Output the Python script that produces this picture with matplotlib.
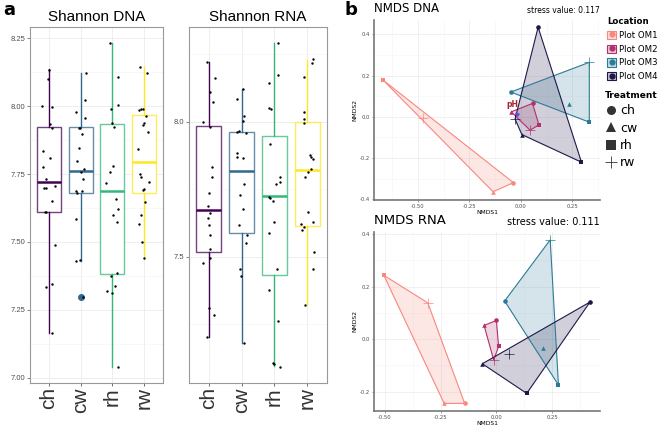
import numpy as np
import matplotlib
matplotlib.use('Agg')
import matplotlib.pyplot as plt
from matplotlib.patches import Patch, Polygon
from matplotlib.lines import Line2D
from matplotlib.legend_handler import HandlerTuple
from matplotlib.ticker import MultipleLocator

# ---- data ----
treat = ['ch', 'cw', 'rh', 'rw']
box_colors = ['#440154', '#31688E', '#35B779', '#FDE725']

# Shannon DNA box stats
dna_q1 = [7.610, 7.679, 7.382, 7.681]
dna_med = [7.721, 7.762, 7.688, 7.796]
dna_q3 = [7.922, 7.922, 7.934, 7.969]
dna_lo = [7.163, 7.430, 7.040, 7.442]
dna_hi = [8.137, 8.124, 8.234, 8.146]
dna_out = [[], [7.296], [], []]

dna_pts = [
    [8.133, 8.099, 8.002, 7.996, 7.934, 7.918, 7.836, 7.808, 7.776, 7.733,
     7.697, 7.697, 7.705, 7.650, 7.610, 7.609, 7.490, 7.333, 7.345, 7.163],
    [8.124, 8.024, 7.980, 7.957, 7.921, 7.921, 7.899, 7.845, 7.799, 7.770,
     7.757, 7.732, 7.688, 7.681, 7.689, 7.583, 7.431, 7.433, 7.296],
    [8.234, 8.106, 8.004, 7.988, 7.937, 7.923, 7.717, 7.756, 7.781, 7.658,
     7.622, 7.598, 7.573, 7.384, 7.376, 7.339, 7.320, 7.310, 7.040],
    [8.146, 8.124, 7.986, 7.988, 7.990, 7.964, 7.937, 7.931, 7.906, 7.842,
     7.750, 7.738, 7.719, 7.695, 7.691, 7.646, 7.599, 7.566, 7.501, 7.442],
]
dna_jit = [
    [0, -.03, -.21, .09, .04, .11, -.2, .03, -.18, -.11,
     -.17, -.11, .2, .09, -.14, -.08, .2, -.08, .11, .11],
    [.17, .14, -.14, .14, -.06, -.02, .05, -.06, -.12, .09,
     0, .07, -.15, -.11, .05, -.14, -.16, -.01, .08],
    [-.07, .18, .19, -.05, -.01, .04, -.19, -.08, .01, .11,
     .18, .03, .14, .15, -.05, .07, -.17, -.01, .17],
    [-.13, .09, -.15, -.02, -.11, .06, -.01, -.04, .12, -.18,
     -.13, -.08, .17, 0, -.03, .03, -.09, -.16, -.05, -.01],
]

# Shannon RNA box stats
rna_q1 = [7.519, 7.586, 7.432, 7.615]
rna_med = [7.673, 7.817, 7.726, 7.820]
rna_q3 = [7.985, 7.962, 7.949, 7.998]
rna_lo = [7.204, 7.179, 7.095, 7.321]
rna_hi = [8.221, 8.120, 8.293, 8.228]
rna_out = [[], [], [], []]

rna_pts = [
    [8.221, 8.162, 8.110, 8.072, 8.000, 7.980, 7.833, 7.796, 7.735, 7.686,
     7.663, 7.644, 7.617, 7.580, 7.527, 7.496, 7.478, 7.311, 7.285, 7.204],
    [8.086, 8.120, 8.023, 8.002, 7.967, 7.962, 7.958, 7.886, 7.870, 7.865,
     7.770, 7.728, 7.675, 7.616, 7.580, 7.551, 7.453, 7.430, 7.179],
    [8.293, 8.172, 8.143, 8.052, 8.047, 7.917, 7.794, 7.768, 7.775, 7.722,
     7.718, 7.707, 7.628, 7.586, 7.453, 7.377, 7.263, 7.107, 7.102, 7.093],
    [8.231, 8.216, 8.165, 8.035, 8.011, 7.996, 7.877, 7.868, 7.863, 7.826,
     7.814, 7.795, 7.665, 7.620, 7.609, 7.628, 7.599, 7.519, 7.453, 7.321],
]
rna_jit = [
    [-.05, .19, .04, .13, -.16, .05, .11, .09, 0, -.02,
     .03, -.03, 0, .03, .04, .05, -.18, 0, .15, -.05],
    [-.14, .05, .07, .03, -.08, -.13, .14, -.15, -.15, .03,
     .07, -.05, .05, -.07, .17, .13, -.06, -.03, .06],
    [.11, .12, -.16, -.16, -.1, -.15, .18, .04, .18, -.18,
     -.15, -.05, 0, -.18, .08, -.16, .11, -.04, -.02, .16],
    [.17, .13, -.1, -.1, -.09, -.1, .07, .12, .18, .1,
     .02, -.06, .03, -.18, -.1, .18, -.17, .21, .16, -.08],
]

# NMDS scores, rows = location, columns = treatment (ch, cw, rh, rw)
locations = ['Plot OM1', 'Plot OM2', 'Plot OM3', 'Plot OM4']
loc_colors = ['#F8877D', '#B3306D', '#2D7A98', '#1D1848']
shapes = ['o', '^', 's', '+']

nmds_dna_x = [[-0.036, -0.135, -0.669, -0.474],
              [0.057, -0.047, 0.088, 0.045],
              [-0.049, 0.235, 0.333, 0.333],
              [0.084, 0.005, 0.295, -0.028]]
nmds_dna_y = [[-0.319, -0.363, 0.177, -0.008],
              [0.065, 0.024, -0.039, -0.065],
              [0.120, 0.060, -0.026, 0.264],
              [0.434, -0.086, -0.220, -0.011]]
nmds_rna_x = [[-0.142, -0.234, -0.504, -0.307],
              [0.000, -0.055, 0.010, -0.012],
              [0.037, 0.207, 0.278, 0.241],
              [0.419, -0.063, 0.136, 0.057]]
nmds_rna_y = [[-0.245, -0.245, 0.243, 0.138],
              [0.071, 0.052, -0.028, -0.080],
              [0.145, -0.033, -0.175, 0.378],
              [0.141, -0.094, -0.207, -0.057]]
ph_arrow = (-0.041, 0.028)

W, H = 658, 425
fig = plt.figure(figsize=(W / 100, H / 100), dpi=100)


def px_axes(l, t, r, b):
    return fig.add_axes([l / W, 1 - b / H, (r - l) / W, (b - t) / H])


def hull(xs, ys):
    pts = sorted(zip(xs, ys))
    def cross(o, a, b):
        return (a[0]-o[0])*(b[1]-o[1]) - (a[1]-o[1])*(b[0]-o[0])
    lower, upper = [], []
    for p in pts:
        while len(lower) >= 2 and cross(lower[-2], lower[-1], p) <= 0:
            lower.pop()
        lower.append(p)
    for p in reversed(pts):
        while len(upper) >= 2 and cross(upper[-2], upper[-1], p) <= 0:
            upper.pop()
        upper.append(p)
    return lower[:-1] + upper[:-1]


def shannon_panel(ax, title, q1, med, q3, lo, hi, out, pts, jit, ylim, major, minor):
    stats = []
    for i in range(4):
        stats.append(dict(q1=q1[i], med=med[i], q3=q3[i], whislo=lo[i],
                          whishi=hi[i], fliers=out[i]))
    pos = np.arange(1, 5)
    bp = ax.bxp(stats, positions=pos, widths=0.75, patch_artist=True,
                showcaps=False, zorder=2)
    for i, c in enumerate(box_colors):
        bp['boxes'][i].set(facecolor='white', lw=1.0)
        bp['boxes'][i].set_edgecolor(matplotlib.colors.to_rgba(c, 0.75))
        bp['medians'][i].set(color=c, lw=1.8)
        for w in bp['whiskers'][2*i:2*i+2]:
            w.set(color=c, lw=1.0)
        bp['fliers'][i].set(marker='o', markerfacecolor=c, markeredgecolor=c,
                            markersize=4)
    for i in range(4):
        ax.scatter(pos[i] + np.array(jit[i]), pts[i], s=3, color='black',
                   zorder=4, linewidths=0)
    ax.set_xlim(0.4, 4.6)
    ax.set_ylim(*ylim)
    ax.yaxis.set_major_locator(MultipleLocator(major))
    ax.yaxis.set_minor_locator(MultipleLocator(minor))
    ax.set_xticks(pos)
    ax.set_xticklabels(treat, rotation=90, fontsize=15, family='Liberation Sans')
    ax.grid(True, which='major', color='#EBEBEB', lw=0.6, zorder=0)
    ax.grid(True, which='minor', axis='y', color='#F4F4F4', lw=0.4, zorder=0)
    ax.set_axisbelow(True)
    ax.tick_params(axis='y', which='major', labelsize=5.5, colors='#4D4D4D',
                   length=2, width=0.5, pad=1.5)
    ax.tick_params(axis='y', which='minor', length=0)
    ax.tick_params(axis='x', length=2, width=0.5, pad=1, colors='#333333')
    for lab in ax.get_yticklabels():
        lab.set_family('Liberation Sans')
    for s in ax.spines.values():
        s.set_color('#999999')
        s.set_linewidth(0.8)
    ax.set_title(title, fontsize=11, family='Liberation Sans', pad=4)


ax1 = px_axes(30, 27, 163, 383)
shannon_panel(ax1, 'Shannon DNA', dna_q1, dna_med, dna_q3, dna_lo, dna_hi,
              dna_out, dna_pts, dna_jit, (6.98, 8.292), 0.25, 0.125)
ax1.yaxis.set_major_formatter(matplotlib.ticker.FormatStrFormatter('%.2f'))
ax2 = px_axes(189, 27, 327, 383)
shannon_panel(ax2, 'Shannon RNA', rna_q1, rna_med, rna_q3, rna_lo, rna_hi,
              rna_out, rna_pts, rna_jit, (7.032, 8.351), 0.5, 0.25)
ax2.yaxis.set_major_formatter(matplotlib.ticker.FormatStrFormatter('%.1f'))


def nmds_panel(ax, xs, ys, title, stress, xlim, ylim, tsize, ssize, arrow=None):
    for k in range(4):
        c = loc_colors[k]
        hp = hull(xs[k], ys[k])
        ax.add_patch(Polygon(hp, closed=True, facecolor=c, alpha=0.2,
                             edgecolor='none', zorder=2))
        ax.add_patch(Polygon(hp, closed=True, facecolor='none', edgecolor=c,
                             lw=0.8, zorder=3))
        for j in range(4):
            if shapes[j] == '+':
                ax.plot(xs[k][j], ys[k][j], marker='+', color=c, ms=7,
                        mew=0.5, ls='', zorder=4)
            else:
                ax.plot(xs[k][j], ys[k][j], marker=shapes[j], color=c, ms=3.3,
                        mew=0, ls='', zorder=4)
    if arrow is not None:
        ax.annotate('', xy=arrow, xytext=(0, 0),
                    arrowprops=dict(arrowstyle='-|>', color='#5B4FE0', lw=1.0,
                                    mutation_scale=5), zorder=5)
        ax.text(arrow[0], arrow[1] + 0.03, 'pH', color='#A0262E', fontsize=5.5,
                fontweight='bold', ha='center', va='center', zorder=5)
    ax.set_xlim(*xlim)
    ax.set_ylim(*ylim)
    ax.xaxis.set_major_locator(MultipleLocator(0.25))
    ax.xaxis.set_minor_locator(MultipleLocator(0.125))
    ax.yaxis.set_major_locator(MultipleLocator(0.2))
    ax.yaxis.set_minor_locator(MultipleLocator(0.1))
    ax.xaxis.set_major_formatter(matplotlib.ticker.FormatStrFormatter('%.2f'))
    ax.yaxis.set_major_formatter(matplotlib.ticker.FormatStrFormatter('%.1f'))
    ax.grid(True, which='major', color='#EBEBEB', lw=0.5, zorder=0)
    ax.grid(True, which='minor', color='#F5F5F5', lw=0.4, zorder=0)
    ax.set_axisbelow(True)
    ax.tick_params(which='major', labelsize=3.8, colors='#4D4D4D', length=1.5,
                   width=0.4, pad=1.5)
    ax.tick_params(which='minor', length=0)
    for s in ['top', 'right']:
        ax.spines[s].set_visible(False)
    for s in ['left', 'bottom']:
        ax.spines[s].set_color('#777777')
        ax.spines[s].set_linewidth(1.2)
    ax.set_xlabel('NMDS1', fontsize=4.3, labelpad=0.5)
    ax.set_ylabel('NMDS2', fontsize=4.3, labelpad=1.5)
    ax.text(0, 1.03, title, transform=ax.transAxes, fontsize=tsize,
            ha='left', va='bottom')
    ax.text(1.0, 1.03, 'stress value: ' + stress, transform=ax.transAxes,
            fontsize=ssize, ha='right', va='bottom')


ax3 = px_axes(374, 20, 600, 200)
nmds_panel(ax3, nmds_dna_x, nmds_dna_y, 'NMDS DNA', '0.117',
           (-0.714, 0.385), (-0.403, 0.469), 8.5, 5.5, arrow=ph_arrow)
ax4 = px_axes(374, 232, 600, 411)
nmds_panel(ax4, nmds_rna_x, nmds_rna_y, 'NMDS RNA', '0.111',
           (-0.548, 0.464), (-0.274, 0.408), 9.5, 7)

# legends
loc_handles = [(Patch(facecolor=matplotlib.colors.to_rgba(c, 0.25), edgecolor=c, lw=0.8),
                Line2D([], [], marker='o', color=c, ms=3.5, ls=''))
               for c in loc_colors]
leg1 = fig.legend(loc_handles, locations, title='Location',
                  handler_map={tuple: HandlerTuple(ndivide=1)},
                  loc='upper left', bbox_to_anchor=(607 / W, 1 - 17 / H),
                  frameon=False, fontsize=6.2, handlelength=1.1,
                  handleheight=1.1, handletextpad=0.3, labelspacing=0.55,
                  borderpad=0, borderaxespad=0, alignment='left',
                  title_fontproperties={'weight': 'bold', 'size': 6.2})
tr_handles = [Line2D([], [], marker=m, color='#333333', ls='',
                     ms=(9 if m == '+' else 6.5), mew=(0.6 if m == '+' else 0))
              for m in shapes]
leg2 = fig.legend(tr_handles, treat, title='Treatment', loc='upper left',
                  bbox_to_anchor=(605 / W, 1 - 91 / H), frameon=False,
                  fontsize=9, handlelength=1.0, handletextpad=0.2,
                  labelspacing=0.35, borderpad=0, borderaxespad=0,
                  alignment='left',
                  title_fontproperties={'weight': 'bold', 'size': 6.5})

fig.text(3 / W, 1 - 10 / H, 'a', fontsize=13, fontweight='bold', va='center')
fig.text(345 / W, 1 - 10 / H, 'b', fontsize=13, fontweight='bold', va='center')

fig.savefig('out.png', dpi=100)
